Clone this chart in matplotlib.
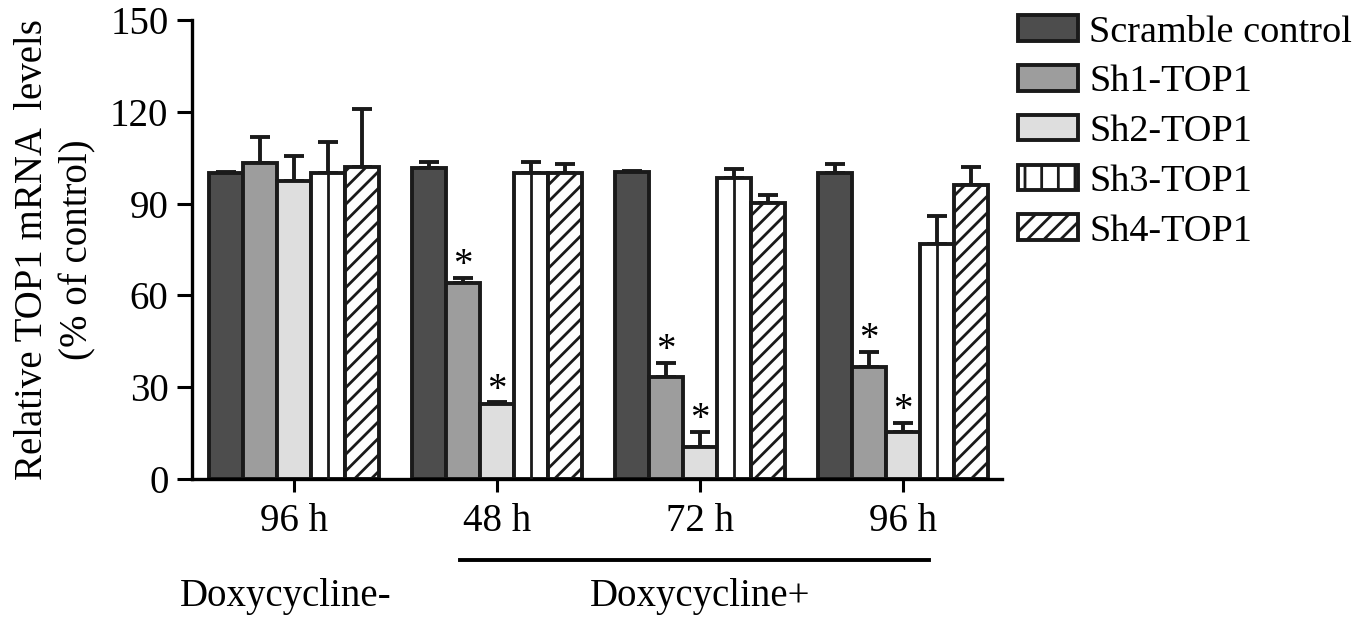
import numpy as np
import matplotlib.pyplot as plt
from matplotlib.patches import Patch

plt.rcParams['font.family'] = ['Liberation Serif', 'DejaVu Serif']
plt.rcParams['hatch.linewidth'] = 2.0

# datos
groups = ["96 h", "48 h", "72 h", "96 h"]
series = ["Scramble control", "Sh1-TOP1", "Sh2-TOP1", "Sh3-TOP1", "Sh4-TOP1"]
scramble = [100, 101.5, 100.2, 99.9]
sh1 = [103.2, 64.2, 33.2, 36.5]
sh2 = [97.5, 24.4, 10.4, 15.3]
sh3 = [100, 100, 98.5, 76.7]
sh4 = [102, 100, 90.3, 96.1]
err_scramble = [0.3, 2.2, 0.3, 2.9]
err_sh1 = [8.7, 1.6, 4.8, 5.0]
err_sh2 = [8.2, 0.6, 5.1, 3.1]
err_sh3 = [10.2, 3.7, 2.7, 9.2]
err_sh4 = [18.8, 2.9, 2.4, 5.9]
# asteriscos (serie, grupo)
stars = [(1, 1), (2, 1), (1, 2), (2, 2), (1, 3), (2, 3)]

values = [scramble, sh1, sh2, sh3, sh4]
errors = [err_scramble, err_sh1, err_sh2, err_sh3, err_sh4]
faces = ["#4d4d4d", "#9d9d9d", "#dedede", "white", "white"]
hatches = [None, None, None, None, "//"]
edge = "#1a1a1a"

fig = plt.figure(figsize=(13.54, 6.17), dpi=100)
ax = fig.add_axes([0.1418, 0.2237, 0.5982, 0.7439])

x = np.arange(len(groups))
w = 0.167
fs = 28
lw = 2.8

for i, (v, e) in enumerate(zip(values, errors)):
    pos = x + (i - 2) * w
    ax.bar(pos, v, w, color=faces[i], edgecolor=edge, linewidth=lw,
           hatch=hatches[i], zorder=2)
    ax.errorbar(pos, v, yerr=[np.zeros(len(v)), e], fmt='none', ecolor=edge,
                elinewidth=lw, capsize=7, capthick=lw, zorder=1)
    if i == 3:
        # linea central de las barras Sh3
        ax.vlines(pos, 0, v, color=edge, linewidth=2.0, zorder=3)

for s, g in stars:
    ax.text(x[g] + (s - 2) * w, values[s][g] + errors[s][g] - 2.0, "*",
            ha='center', va='bottom', fontsize=fs)

ax.set_xlim(-0.502, 3.488)
ax.set_ylim(0, 150)
ax.set_yticks([0, 30, 60, 90, 120, 150])
ax.set_xticks(x)
ax.set_xticklabels(groups)
ax.tick_params(axis='y', labelsize=fs, length=11, width=2.2, pad=6)
ax.tick_params(axis='x', labelsize=fs, length=9, width=2.2, pad=8)
for sp in ['top', 'right']:
    ax.spines[sp].set_visible(False)
for sp in ['left', 'bottom']:
    ax.spines[sp].set_linewidth(2.4)

ax.set_ylabel("Relative TOP1 mRNA  levels\n(% of control)", fontsize=fs,
              linespacing=1.3, labelpad=10)

# etiquetas de tratamiento
trans = ax.get_xaxis_transform()
ax.plot([x[1] - 0.18, x[3] + 0.13], [-0.176, -0.176], color='black',
        linewidth=2.8, transform=trans, clip_on=False)
ax.text(x[0] - 0.04, -0.255, "Doxycycline-", transform=trans, ha='center',
        va='center', fontsize=fs)
ax.text((x[1] + x[3]) / 2, -0.255, "Doxycycline+", transform=trans,
        ha='center', va='center', fontsize=fs)

handles = [Patch(facecolor=faces[i], edgecolor=edge, linewidth=lw,
                 hatch=(hatches[i] if i != 3 else '|'))
           for i in range(len(series))]
fig.legend(handles, series, loc='upper left',
           bbox_to_anchor=(1018 / 1354, 1 - 15 / 617), frameon=False,
           fontsize=27.5, handlelength=1.58, handleheight=0.65,
           handletextpad=0.28, labelspacing=0.4, borderpad=0,
           borderaxespad=0)

fig.savefig("out.png", dpi=100)
